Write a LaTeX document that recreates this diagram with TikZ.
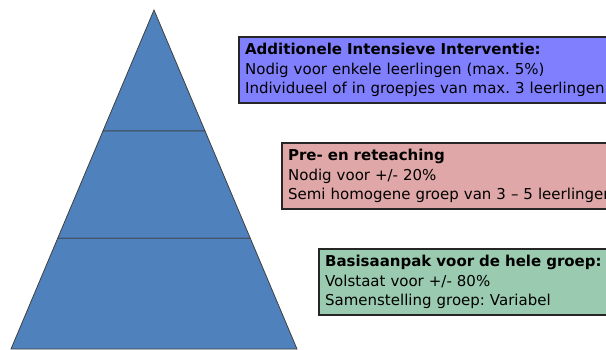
\documentclass[tikz,border=0pt]{standalone}
\usepackage{fontspec}
\setmainfont{DejaVu Sans}
\usepackage{xcolor}
\definecolor{Steel Blue}{HTML}{4F81BD}
\definecolor{Periwinkle}{HTML}{8080FF}
\definecolor{Dusty Rose}{HTML}{DFA7A7}
\definecolor{Sea Mint}{HTML}{9ACBB0}
\colorlet{cTop}{Periwinkle}
\colorlet{cMid}{Dusty Rose}
\colorlet{cBase}{Sea Mint}
\usetikzlibrary{calc, positioning}
\tikzset{
	x=1pt,
	y=-1pt,
	font=\fontsize{15}{19.5}\selectfont,
	layer/.style={
		fill=Steel Blue,
		draw=black!75,
		line width=.8pt
	},
	infobox/.style={
		draw=black!85,
		line width=2.2pt,
		rectangle,
		anchor=north west,
		align=left,
		text width=380pt,
		inner xsep=6pt,
		inner ysep=6pt
	}
}
\frenchspacing

\begin{document}
\begin{tikzpicture}
	\useasboundingbox (0,0) rectangle (606,349);
	\clip (0,0) rectangle (606,349);

	% pyramid
	\coordinate (apex) at (154,10);
	\coordinate (bl) at (11,349);
	\coordinate (br) at (297,349);
	\coordinate (l1) at ($(apex)!0.357!(bl)$);
	\coordinate (r1) at ($(apex)!0.357!(br)$);
	\coordinate (l2) at ($(apex)!0.673!(bl)$);
	\coordinate (r2) at ($(apex)!0.673!(br)$);
	\draw[layer] (apex) -- (r1) -- (l1) -- cycle;
	\draw[layer] (l1) -- (r1) -- (r2) -- (l2) -- cycle;
	\draw[layer] (l2) -- (r2) -- (br) -- (bl) -- cycle;

	% boxes
	\node (top) [infobox, fill=cTop] at (238,36)
		{\textbf{Additionele Intensieve Interventie:}\\
		Nodig voor enkele leerlingen (max. 5\%)\\
		Individueel of in groepjes van max. 3 leerlingen};
	\node (mid) [infobox, fill=cMid] at (281,142)
		{\textbf{Pre- en reteaching}\\
		Nodig voor +/- 20\%\\
		Semi homogene groep van 3 – 5 leerlingen};
	\node (base) [infobox, fill=cBase] at (318,248)
		{\textbf{Basisaanpak voor de hele groep:}\\
		Volstaat voor +/- 80\%\\
		Samenstelling groep: Variabel};
\end{tikzpicture}
\end{document}
